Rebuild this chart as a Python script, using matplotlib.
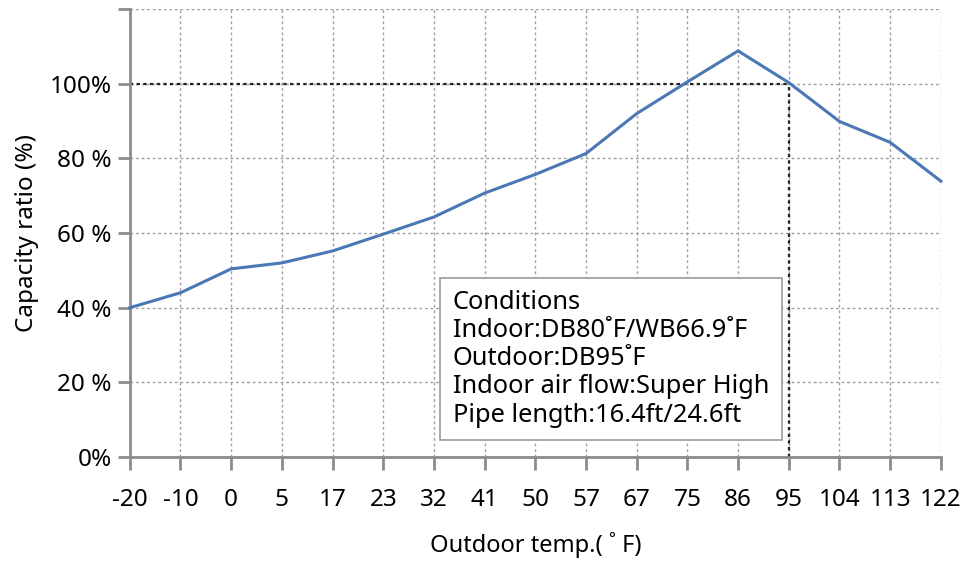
import numpy as np
import matplotlib
matplotlib.use("Agg")
import matplotlib.pyplot as plt

plt.rcParams['font.family'] = ['Noto Sans', 'DejaVu Sans']

# outdoor temperature categories (deg F) and capacity ratio (%)
temps = ['-20', '-10', '0', '5', '17', '23', '32', '41', '50', '57',
         '67', '75', '86', '95', '104', '113', '122']
capacity = [40.0, 44.0, 50.4, 52.0, 55.2, 59.7, 64.3, 70.7, 75.7, 81.3,
            92.0, 100.5, 108.8, 100.3, 89.9, 84.3, 73.9]
yticks = [0, 20, 40, 60, 80, 100, 120]
ylabels = ['0%', '20 %', '40 %', '60 %', '80 %', '100%', '']
rated_temp = '95'
rated_cap = 100

conditions = ("Conditions\n"
              "Indoor:DB80\u02daF/WB66.9\u02daF\n"
              "Outdoor:DB95\u02daF\n"
              "Indoor air flow:Super High\n"
              "Pipe length:16.4ft/24.6ft")

x = np.arange(len(temps))
xr = temps.index(rated_temp)

fig = plt.figure(figsize=(9.76, 5.67), dpi=100)
ax = fig.add_axes([0.133, 0.194, 0.831, 0.790])

grey = '#8c8c8c'
ax.grid(True, color='#a0a0a0', linestyle=(0, (2, 2)), linewidth=1)
ax.set_axisbelow(True)

# reference lines at the rated point
ax.plot([0, xr], [rated_cap, rated_cap], color='#222222', linestyle=(0, (1.5, 1.5)), linewidth=1.6)
ax.plot([xr, xr], [0, rated_cap], color='#222222', linestyle=(0, (1.5, 1.5)), linewidth=1.6)

ax.plot(x, capacity, color='#4a78b4', linewidth=2.2, clip_on=False, zorder=3)

ax.set_xlim(0, len(temps) - 1)
ax.set_ylim(0, 120)
ax.set_xticks(x)
ax.set_xticklabels(temps)
ax.set_yticks(yticks)
ax.set_yticklabels(ylabels)

for s in ['top', 'right']:
    ax.spines[s].set_visible(False)
for s in ['left', 'bottom']:
    ax.spines[s].set_color(grey)
    ax.spines[s].set_linewidth(2)

ax.tick_params(axis='both', colors=grey, width=2, length=9, labelcolor='black', labelsize=17.5)
ax.tick_params(axis='x', pad=13)
ax.tick_params(axis='y', pad=4)

ax.set_xlabel('Outdoor temp.( \u02da F)', fontsize=17, labelpad=15)
ax.set_ylabel('Capacity ratio (%)', fontsize=17.5, labelpad=8)

ax.text(0.398, 0.372, conditions, transform=ax.transAxes, fontsize=18.3,
        va='top', ha='left', linespacing=1.16, zorder=4,
        bbox=dict(boxstyle='square,pad=0.5', facecolor='white', edgecolor='#999999', linewidth=1.2))

fig.savefig('out.png', dpi=100)
